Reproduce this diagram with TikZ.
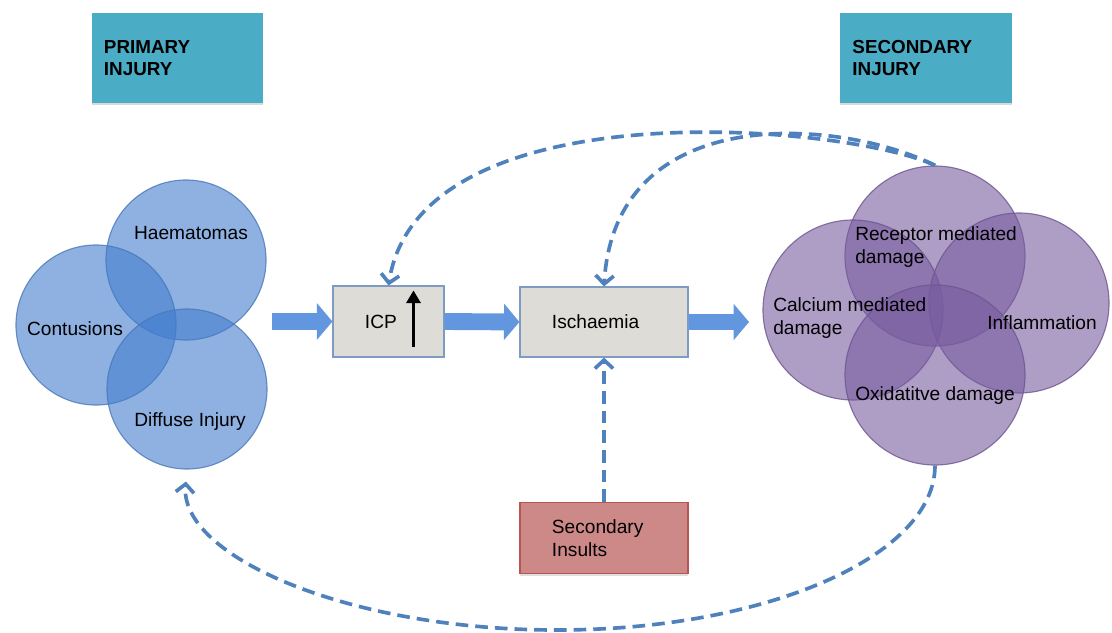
\documentclass[tikz,border=0pt]{standalone}
\usepackage{fontspec}
\setmainfont{Liberation Sans}
\usetikzlibrary{arrows.meta,calc,shadows}

\definecolor{headteal}{RGB}{75,172,198}
\definecolor{lineblue}{RGB}{79,129,189}
\definecolor{fatblue}{RGB}{98,150,222}
\definecolor{boxgray}{RGB}{222,220,215}
\definecolor{boxedge}{RGB}{125,155,195}
\definecolor{insultred}{RGB}{205,137,135}
\definecolor{insultedge}{RGB}{185,85,82}
\definecolor{primblue}{RGB}{66,125,205}
\definecolor{primedge}{RGB}{74,120,185}
\definecolor{secpurple}{RGB}{120,92,159}
\definecolor{secedge}{RGB}{110,85,145}

\tikzset{
  body/.style={font=\fontsize{13.6}{16}\selectfont, inner sep=0pt},
  heading/.style={fill=headteal, minimum height=2.225cm, text width=3.675cm,
    inner xsep=0.3cm, align=left, font=\fontsize{13.4}{16}\selectfont\bfseries,
    drop shadow={shadow xshift=0pt, shadow yshift=-2pt, opacity=0.3}},
  proc/.style={draw=boxedge, fill=boxgray, line width=0.8pt, align=left,
    inner xsep=0.8cm, font=\fontsize{13.6}{16}\selectfont},
  pcirc/.style={circle, minimum size=4cm, inner sep=0pt, fill=primblue,
    fill opacity=0.6, draw=primedge, draw opacity=0.8, line width=0.8pt},
  scirc/.style={circle, minimum size=4.5cm, inner sep=0pt, fill=secpurple,
    fill opacity=0.6, draw=secedge, draw opacity=0.8, line width=0.8pt},
  fat/.style={draw=fatblue, line width=12pt,
    -{Triangle[length=11pt,width=26pt,line width=0pt]}},
  feedback/.style={draw=lineblue, line width=2.6pt, dash pattern=on 9pt off 5pt},
  >={Straight Barb[length=6pt,width=13pt]}
}

\begin{document}
\begin{tikzpicture}[x=0.025cm,y=-0.025cm]
\useasboundingbox (0,0) rectangle (1112,632);

% headings
\node[heading] (prim) at (177.5,58) {PRIMARY\\INJURY};
\node[heading] (sec) at (926,58) {SECONDARY\\INJURY};

% primary injury circles
\node[pcirc] (haem) at (186,260) {};
\node[pcirc] (cont) at (96,325) {};
\node[pcirc] (diff) at (187,389) {};
\node[body] (haemtxt) at (191,233) {Haematomas};
\node[body] (conttxt) at (75,329) {Contusions};
\node[body] (difftxt) at (190,422) {Diffuse Injury};

% secondary injury circles
\node[scirc] (rec) at (935,256) {};
\node[scirc] (cal) at (853,310) {};
\node[scirc] (infl) at (1019,303) {};
\node[scirc] (oxi) at (935,375) {};
\node[body, anchor=west, align=left] (rectxt) at (855,247) {Receptor mediated\\damage};
\node[body, anchor=west, align=left] (caltxt) at (773,318) {Calcium mediated\\damage};
\node[body, anchor=west] (infltxt) at (987,323) {Inflammation};
\node[body, anchor=west] (oxitxt) at (855,396) {Oxidatitve damage};

% middle boxes
\node[proc, text width=1.175cm, minimum height=1.775cm] (icp) at (388.5,321.5) {ICP};
\node[proc, text width=2.6cm, minimum height=1.75cm] (isch) at (604,322) {Ischaemia};
\node[proc, fill=insultred, draw=insultedge, text width=2.6cm, minimum height=1.775cm,
  drop shadow={shadow xshift=0pt, shadow yshift=-1.5pt, opacity=0.25}] (insults) at (604,538) {Secondary\\Insults};

\draw[black, line width=2.2pt, -{Triangle[length=9pt,width=10pt]}]
  ($(icp.south)+(25,-11)$) -- ($(icp.north)+(25,5)$);

% block arrows
\coordinate (fatin) at (272,321.5);
\coordinate (fatout) at (749,322);
\draw[fat] (fatin) -- (icp.west);
\draw[fat] (icp.east) -- (isch.west);
\draw[fat] (isch.east) -- (fatout);

% feedback loops
\draw[feedback, ->] (rec.north) .. controls (850,125) and (420,85) .. (icp.north);
\draw[feedback, ->] (rec.north) .. controls (840,118) and (615,100) .. (isch.north);
\draw[feedback, ->] (insults.north) -- (isch.south);
\draw[feedback, ->, shorten >=0.3cm] (oxi.south) .. controls (935,556) and (766,630) .. (557,630)
  .. controls (348,630) and (179,556) .. (diff.south);
\end{tikzpicture}
\end{document}
